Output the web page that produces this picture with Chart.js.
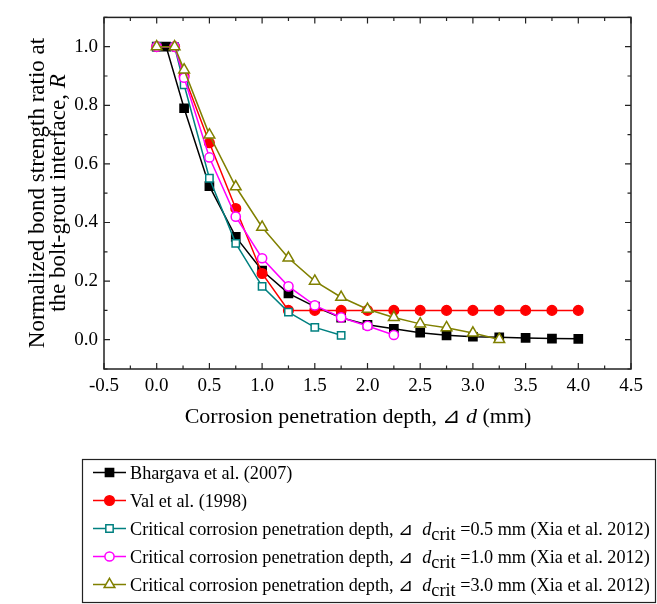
<!DOCTYPE html>
<html>
<head>
<meta charset="utf-8">
<script src="https://cdn.jsdelivr.net/npm/chart.js@4.4.0/dist/chart.umd.min.js"></script>
<style>
  html, body { margin: 0; padding: 0; background: #fff; }
  canvas { display: block; }
</style>
</head>
<body>
<canvas id="chart" width="657" height="604"></canvas>
<script>
// axis ticks
const xTicks = [-0.5, 0, 0.5, 1.0, 1.5, 2.0, 2.5, 3.0, 3.5, 4.0, 4.5];
const yTicks = [0, 0.2, 0.4, 0.6, 0.8, 1.0];

// Bhargava et al. (2007)
const bhargavaX = [0, 0.09, 0.26, 0.5, 0.75, 1.0, 1.25, 1.5, 1.75, 2.0, 2.25, 2.5, 2.75, 3.0, 3.25, 3.5, 3.75, 4.0];
const bhargavaR = [1.0, 1.0, 0.79, 0.524, 0.351, 0.236, 0.158, 0.113, 0.075, 0.051, 0.037, 0.024, 0.015, 0.01, 0.008, 0.006, 0.004, 0.003];

// Val et al. (1998)
const valX = [0, 0.17, 0.26, 0.5, 0.75, 1.0, 1.25, 1.5, 1.75, 2.0, 2.25, 2.5, 2.75, 3.0, 3.25, 3.5, 3.75, 4.0];
const valR = [1.0, 1.0, 0.9, 0.672, 0.448, 0.226, 0.1, 0.1, 0.1, 0.1, 0.1, 0.1, 0.1, 0.1, 0.1, 0.1, 0.1, 0.1];

// Xia et al. (2012), dcrit = 0.5 / 1.0 / 3.0 mm
const crit05X = [0, 0.17, 0.26, 0.5, 0.75, 1.0, 1.25, 1.5, 1.75];
const crit05R = [1.0, 1.0, 0.87, 0.551, 0.329, 0.182, 0.094, 0.042, 0.015];
const crit10X = [0, 0.17, 0.26, 0.5, 0.75, 1.0, 1.25, 1.5, 1.75, 2.0, 2.25];
const crit10R = [1.0, 1.0, 0.894, 0.622, 0.42, 0.278, 0.182, 0.117, 0.076, 0.047, 0.016];
const crit30X = [0, 0.17, 0.26, 0.5, 0.75, 1.0, 1.25, 1.5, 1.75, 2.0, 2.25, 2.5, 2.75, 3.0, 3.25];
const crit30R = [1.0, 1.0, 0.921, 0.699, 0.522, 0.384, 0.279, 0.2, 0.145, 0.104, 0.076, 0.054, 0.041, 0.023, 0.001];

const FONT = '"Liberation Serif", "Times New Roman", serif';

const critLabel = v => [
  { text: 'Critical corrosion penetration depth, \u22BF  ' },
  { text: 'd', italic: true },
  { text: 'crit', sub: true },
  { text: ' =' + v + ' mm (Xia et al. 2012)' }
];

const series = [
  { runs: [{ text: 'Bhargava et al. (2007)' }], xs: bhargavaX, ys: bhargavaR, color: '#000000', style: 'rect', radius: 5.8, filled: true },
  { runs: [{ text: 'Val et al. (1998)' }], xs: valX, ys: valR, color: '#ff0000', style: 'circle', radius: 4.8, filled: true },
  { runs: critLabel('0.5'), xs: crit05X, ys: crit05R, color: '#008080', style: 'rect', radius: 5.2, filled: false },
  { runs: critLabel('1.0'), xs: crit10X, ys: crit10R, color: '#ff00ff', style: 'circle', radius: 4.6, filled: false },
  { runs: critLabel('3.0'), xs: crit30X, ys: crit30R, color: '#808000', style: 'triangle', radius: 6.2, filled: false }
];

function drawRuns(ctx, runs, x, y, size, align) {
  const fontOf = r => (r.italic ? 'italic ' : '') + size + 'px ' + FONT;
  let total = 0;
  runs.forEach(r => { ctx.font = fontOf(r); total += ctx.measureText(r.text).width; });
  let cx = align === 'center' ? x - total / 2 : x;
  ctx.textAlign = 'left';
  ctx.textBaseline = 'alphabetic';
  runs.forEach(r => {
    ctx.font = fontOf(r);
    ctx.fillText(r.text, cx, y + (r.sub ? size * 0.3 : 0));
    cx += ctx.measureText(r.text).width;
  });
}

const framePlugin = {
  id: 'frame',
  beforeDatasetsDraw(chart) {
    const { ctx, chartArea: a, scales: { x, y } } = chart;
    ctx.save();
    ctx.strokeStyle = '#222';
    ctx.lineWidth = 1.5;
    ctx.strokeRect(a.left, a.top, a.right - a.left, a.bottom - a.top);
    ctx.lineWidth = 1.2;
    ctx.beginPath();
    for (let v = -0.5; v <= 4.5001; v += 0.25) {
      const px = x.getPixelForValue(v);
      const len = xTicks.some(t => Math.abs(t - v) < 1e-6) ? 6 : 3.5;
      ctx.moveTo(px, a.bottom); ctx.lineTo(px, a.bottom - len);
      ctx.moveTo(px, a.top); ctx.lineTo(px, a.top + len);
    }
    for (let v = -0.1; v <= 1.1001; v += 0.1) {
      const py = y.getPixelForValue(v);
      const len = yTicks.some(t => Math.abs(t - v) < 1e-6) ? 6 : 3.5;
      ctx.moveTo(a.left, py); ctx.lineTo(a.left + len, py);
      ctx.moveTo(a.right, py); ctx.lineTo(a.right - len, py);
    }
    ctx.stroke();
    ctx.restore();
  },
  afterDraw(chart) {
    const { ctx } = chart;
    ctx.save();
    ctx.fillStyle = '#000';

    // x axis title
    drawRuns(ctx, [
      { text: 'Corrosion penetration depth, \u22BF ' },
      { text: 'd', italic: true },
      { text: ' (mm)' }
    ], 358, 423, 22, 'center');

    // y axis title
    const midY = 193;
    ctx.save();
    ctx.translate(44, midY);
    ctx.rotate(-Math.PI / 2);
    drawRuns(ctx, [{ text: 'Normalized bond strength ratio at' }], 0, 0, 23, 'center');
    ctx.restore();
    ctx.save();
    ctx.translate(65, midY);
    ctx.rotate(-Math.PI / 2);
    drawRuns(ctx, [{ text: 'the bolt-grout interface, ' }, { text: 'R', italic: true }], 0, 0, 23, 'center');
    ctx.restore();

    // legend box
    ctx.strokeStyle = '#222';
    ctx.lineWidth = 1.2;
    ctx.strokeRect(82.5, 459.5, 573, 143);
    const rows = [472.5, 500.5, 528.5, 556.5, 584.5];
    series.forEach((s, i) => {
      const ry = rows[i];
      ctx.strokeStyle = s.color;
      ctx.lineWidth = 1.5;
      ctx.beginPath();
      ctx.moveTo(93, ry); ctx.lineTo(126, ry);
      ctx.stroke();
      ctx.fillStyle = s.filled ? s.color : '#fff';
      Chart.helpers.drawPoint(ctx, { pointStyle: s.style, radius: s.radius, rotation: 0, borderWidth: 1.5 }, 109.5, ry);
      ctx.fillStyle = '#000';
      drawRuns(ctx, s.runs, 130, ry + 6, 18.2, 'left');
    });
    ctx.restore();
  }
};

new Chart(document.getElementById('chart'), {
  type: 'line',
  data: {
    datasets: series.map((s, i) => ({
      label: s.runs.map(r => r.text).join(''),
      data: s.xs.map((v, k) => ({ x: v, y: s.ys[k] })),
      borderColor: s.color,
      backgroundColor: s.filled ? s.color : '#ffffff',
      pointBackgroundColor: s.filled ? s.color : '#ffffff',
      pointBorderColor: s.color,
      pointStyle: s.style,
      pointRadius: s.radius,
      pointBorderWidth: 1.5,
      borderWidth: 1.5,
      tension: 0,
      order: series.length - i
    }))
  },
  options: {
    responsive: false,
    animation: false,
    events: [],
    layout: { padding: { top: 6, right: 26, left: 0, bottom: 0 } },
    plugins: {
      legend: { display: false },
      tooltip: { enabled: false }
    },
    scales: {
      x: {
        type: 'linear',
        min: -0.5,
        max: 4.5,
        afterBuildTicks: s => { s.ticks = xTicks.map(v => ({ value: v })); },
        afterFit: s => { s.height = 235; },
        grid: { display: false, drawTicks: false },
        border: { display: false },
        ticks: {
          padding: 6,
          color: '#000',
          font: { family: FONT, size: 19 },
          maxRotation: 0,
          autoSkip: false,
          callback: v => v.toFixed(1)
        }
      },
      y: {
        type: 'linear',
        min: -0.1,
        max: 1.1,
        afterBuildTicks: s => { s.ticks = yTicks.map(v => ({ value: v })); },
        afterFit: s => { s.width = 104; },
        grid: { display: false, drawTicks: false },
        border: { display: false },
        ticks: {
          padding: 6,
          color: '#000',
          font: { family: FONT, size: 19 },
          autoSkip: false,
          callback: v => v.toFixed(1)
        }
      }
    }
  },
  plugins: [framePlugin]
});
</script>
</body>
</html>
